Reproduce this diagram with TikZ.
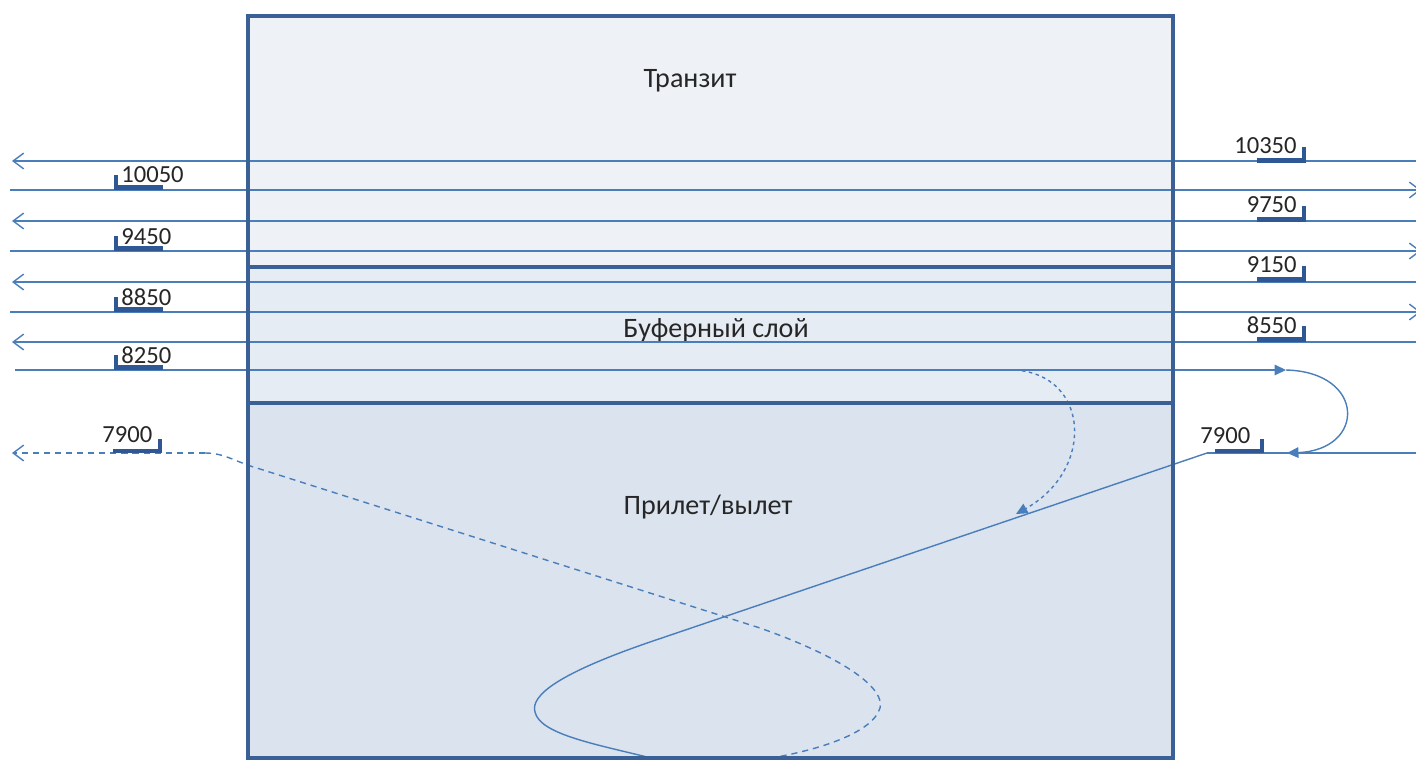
\documentclass[tikz,border=0pt]{standalone}
\usepackage{fontspec}
\setmainfont{Carlito}
\usetikzlibrary{arrows.meta}
\definecolor{flow}{HTML}{4A7EBB}
\definecolor{frame}{HTML}{3A6096}
\definecolor{brk}{HTML}{2F5794}
\definecolor{fillA}{HTML}{EEF2F7}
\definecolor{fillB}{HTML}{E6ECF3}
\definecolor{fillC}{HTML}{DAE3EE}
\tikzset{
  flowline/.style={draw=flow, line width=0.8pt},
  openhead/.style={-{Straight Barb[length=6pt,width=9pt,line width=0.8pt]}},
  solidhead/.style={-{Triangle[length=6.5pt,width=6pt]}},
  dashflow/.style={flowline, dash pattern=on 3.5pt off 2.8pt},
  dotflow/.style={flowline, dash pattern=on 2pt off 2pt},
  bracket/.style={draw=brk, line width=2.4pt},
  border/.style={draw=frame, line width=1.8pt},
  num/.style={font=\fontsize{14}{16}\selectfont, text=black!85, inner sep=0pt},
  zonelabel/.style={font=\fontsize{16}{19}\selectfont, text=black!85, inner sep=0pt}
}
\begin{document}
\begin{tikzpicture}[x=0.02cm, y=-0.02cm]
\useasboundingbox (0,0) rectangle (1416,760);
\clip (0,0) rectangle (1416,760);
% zones
\fill[fillA] (248,16) rectangle (1173,267);
\fill[fillB] (248,267) rectangle (1173,403);
\fill[fillC] (248,403) rectangle (1173,758);
% zone labels
\node[zonelabel] (transit) at (690,81) {Транзит};
\node[zonelabel] (buffer) at (716,330) {Буферный слой};
\node[zonelabel] (arrival) at (708,507) {Прилет/вылет};
% left-pointing flight levels
\foreach \y/\n in {161/a,221/b,282/c,342/d} {
  \coordinate (R\n) at (1418,\y);
  \coordinate (L\n) at (12,\y);
  \draw[flowline, openhead] (R\n) -- (L\n);
}
% right-pointing flight levels
\foreach \y/\n in {190/e,251/f,312/g} {
  \coordinate (L\n) at (10,\y);
  \coordinate (R\n) at (1421,\y);
  \draw[flowline, openhead] (L\n) -- (R\n);
}
% 8250 level with turn
\coordinate (Lh) at (15,370);
\coordinate (Th) at (1286,370);
\coordinate (Tb) at (1287,453);
\coordinate (Ri) at (1418,453);
\coordinate (Ex) at (1207,453);
\coordinate (Bot) at (655,759);
\draw[flowline, solidhead] (Lh) -- (Th);
\draw[flowline, solidhead] (Th) .. controls (1366,372) and (1366,450) .. (Tb);
\draw[flowline] (Ri) -- (Ex);
\draw[flowline] (Ex) -- (650,642) .. controls (560,673) and (530,695) .. (535,712) .. controls (540,735) and (600,745) .. (Bot);
% dashed turn into arrival zone
\coordinate (Ds) at (1015,370);
\coordinate (De) at (1016,514);
\draw[dotflow, solidhead] (Ds) .. controls (1090,375) and (1095,470) .. (De);
% dashed departure
\coordinate (Dl) at (12,453);
\coordinate (Dk) at (205,453);
\coordinate (Db) at (765,759);
\draw[dashflow, openhead] (Dk) -- (Dl);
\draw[dashflow] (Dk) .. controls (225,453) and (235,462) .. (260,469) -- (760,628) .. controls (850,660) and (885,690) .. (880,708) .. controls (872,735) and (810,752) .. (Db);
% borders
\draw[border] (248,16) rectangle (1173,758);
\draw[border] (248,267) -- (1173,267);
\draw[border] (248,403) -- (1173,403);
% left labels
\foreach \y/\t/\n in {190/10050/a,251/9450/b,312/8850/c,370/8250/d} {
  \draw[bracket] (116,\y-15) -- (116,\y-2.5) -- (163,\y-2.5);
  \node[num, anchor=base west] (nl\n) at (121,\y-7) {\t};
}
% right labels
\foreach \y/\t/\n in {163/10350/a,222/9750/b,282/9150/c,342/8550/d} {
  \draw[bracket] (1257,\y-2.5) -- (1304,\y-2.5) -- (1304,\y-16);
  \node[num, anchor=base east] (nr\n) at (1297,\y-9) {\t};
}
% 7900 labels
\draw[bracket] (113,451) -- (160,451) -- (160,439);
\node[num, anchor=base west] (n79l) at (102,442) {7900};
\draw[bracket] (1215,451) -- (1262,451) -- (1262,439);
\node[num, anchor=base west] (n79r) at (1200,443) {7900};
\end{tikzpicture}
\end{document}
